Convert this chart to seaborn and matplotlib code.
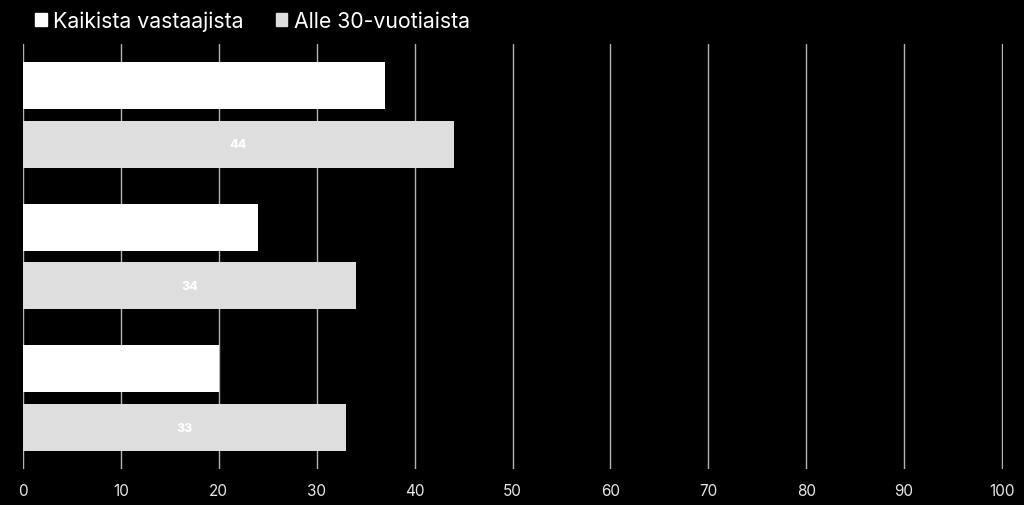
import matplotlib.pyplot as plt
import seaborn as sns
import pandas as pd

# chart data
groups = ['Ryhmä 1', 'Ryhmä 2', 'Ryhmä 3']
series = ['Kaikista vastaajista', 'Alle 30-vuotiaista']
kaikki = [37, 24, 20]
alle30 = [44, 34, 33]
x_ticks = [0, 10, 20, 30, 40, 50, 60, 70, 80, 90, 100]

df = pd.DataFrame({
    'ryhma': groups * 2,
    'sarja': [series[0]] * 3 + [series[1]] * 3,
    'arvo': kaikki + alle30,
})

sns.set_theme(style='white')
plt.rcParams['font.family'] = ['Inter', 'DejaVu Sans']

fig = plt.figure(figsize=(10.24, 5.06), dpi=100, facecolor='black')
ax = fig.add_axes([23 / 1024, 1 - 470 / 506, 980 / 1024, 425 / 506])
ax.set_facecolor('black')

colors = ['#ffffff', '#dedede']
sns.barplot(data=df, y='ryhma', x='arvo', hue='sarja', orient='h',
            palette=colors, width=0.83, gap=0.2, ax=ax, legend=False,
            linewidth=0, zorder=3)

# value labels in the middle of each bar
for cont in ax.containers:
    ax.bar_label(cont, labels=[f'{v:g}' for v in cont.datavalues],
                 label_type='center', color='white', fontsize=9,
                 fontweight='heavy', zorder=4)

ax.set_xlim(0, 100.1)
ax.set_ylim(2.5, -0.5)
ax.set_xticks(x_ticks)
ax.set_xticklabels([str(t) for t in x_ticks], color='#e6e6e6', fontsize=11)
ax.tick_params(axis='x', length=0, pad=10)
ax.set_yticks([])
ax.set_xlabel('')
ax.set_ylabel('')
for s in ax.spines.values():
    s.set_visible(False)
ax.grid(axis='x', color='#b4b4b4', linewidth=1, zorder=0)
ax.grid(axis='y', visible=False)

# legend on top
handles = [plt.Rectangle((0, 0), 1, 1, color=c) for c in colors]
leg = fig.legend(handles, series, loc='upper left',
                 bbox_to_anchor=(16 / 1024, 1 + 8 / 506), ncol=2,
                 frameon=False, fontsize=15.3, handlelength=0.55,
                 handleheight=0.55, handletextpad=0.3, columnspacing=1.5)
for t in leg.get_texts():
    t.set_color('white')

fig.savefig('out.png', dpi=100, facecolor='black')
